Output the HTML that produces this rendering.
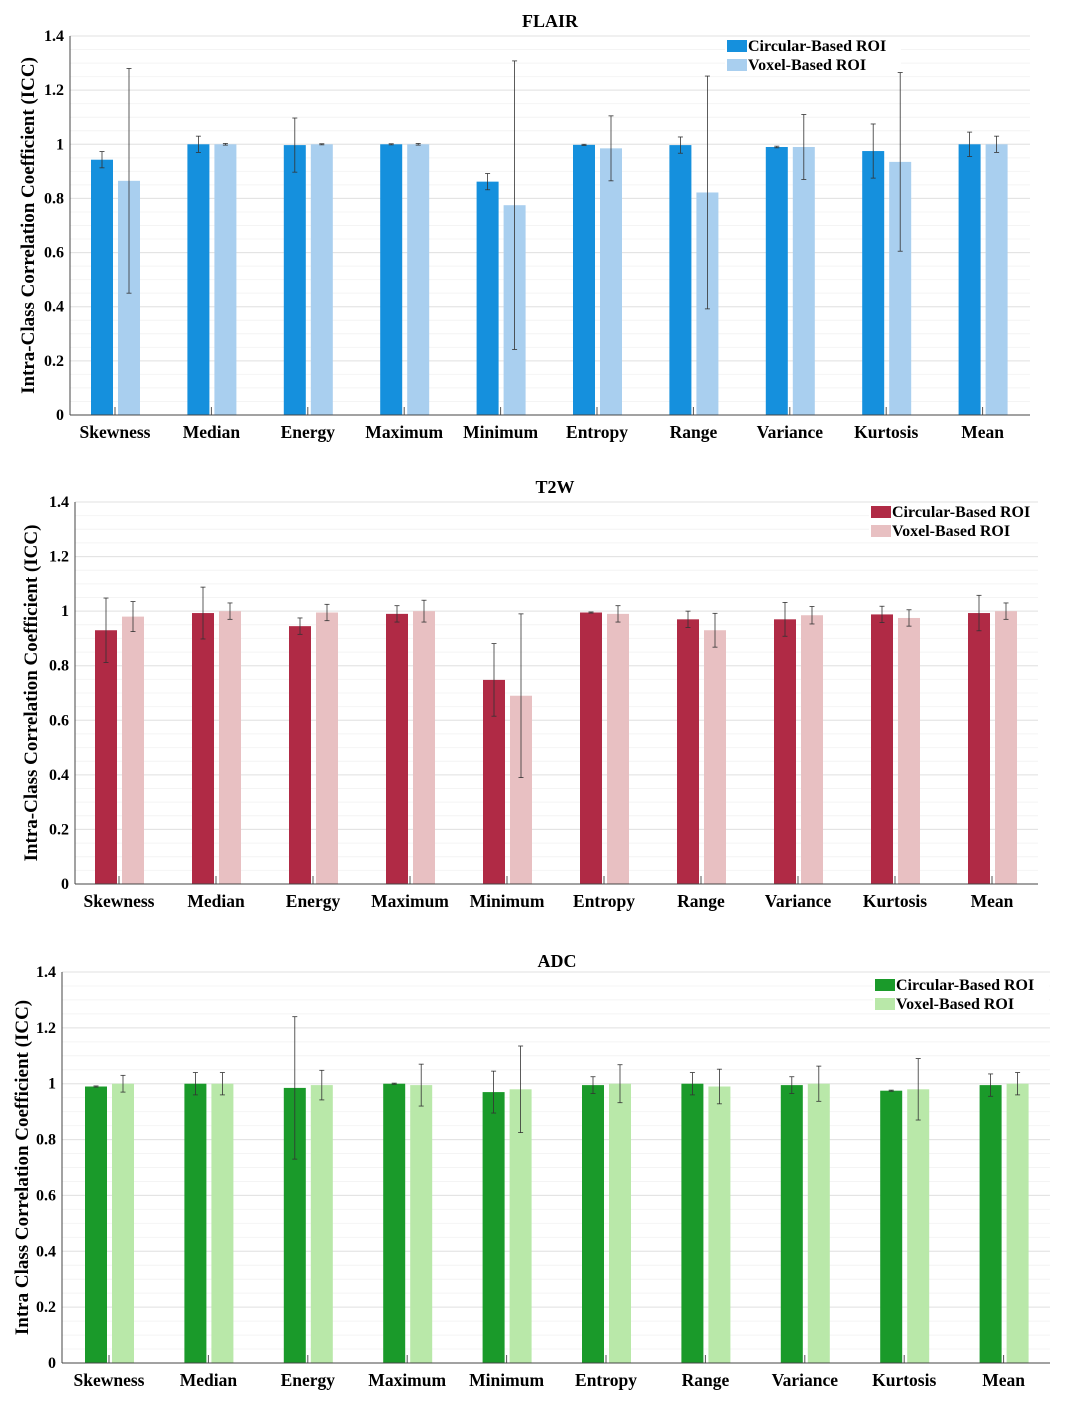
<!DOCTYPE html>
<html><head><meta charset="utf-8"><style>
body{margin:0;background:#fff;width:1070px;height:1417px;overflow:hidden}
svg{display:block;font-family:"Liberation Serif",serif;font-weight:bold}
</style></head><body>
<svg id="c" width="1070" height="1417"></svg>
<script>
const categories=["Skewness","Median","Energy","Maximum","Minimum","Entropy","Range","Variance","Kurtosis","Mean"];
const yTicks=[0,0.2,0.4,0.6,0.8,1,1.2,1.4];
const yTickLabels=["0","0.2","0.4","0.6","0.8","1","1.2","1.4"];
const flairCirc=[0.943,1.0,0.997,1.0,0.862,0.998,0.997,0.99,0.975,1.0];
const flairCircErr=[0.03,0.03,0.1,0.002,0.03,0.002,0.03,0.003,0.1,0.045];
const flairVox=[0.865,1.0,1.0,1.0,0.775,0.985,0.822,0.99,0.935,1.0];
const flairVoxErr=[0.415,0.003,0.002,0.003,0.533,0.12,0.43,0.12,0.33,0.03];
const t2Circ=[0.93,0.993,0.945,0.99,0.748,0.995,0.97,0.97,0.988,0.993];
const t2CircErr=[0.118,0.095,0.03,0.03,0.133,0.002,0.03,0.062,0.03,0.065];
const t2Vox=[0.98,1.0,0.995,1.0,0.69,0.99,0.93,0.985,0.975,1.0];
const t2VoxErr=[0.055,0.03,0.03,0.04,0.3,0.03,0.062,0.032,0.03,0.03];
const adcCirc=[0.99,1.0,0.985,1.0,0.97,0.995,1.0,0.995,0.975,0.995];
const adcCircErr=[0.002,0.04,0.255,0.002,0.075,0.03,0.04,0.03,0.002,0.04];
const adcVox=[1.0,1.0,0.995,0.995,0.98,1.0,0.99,1.0,0.98,1.0];
const adcVoxErr=[0.03,0.04,0.053,0.075,0.155,0.068,0.062,0.063,0.11,0.04];

const svg=document.getElementById('c');
const NS='http://www.w3.org/2000/svg';
function mk(tag,attrs,parent,text){const e=document.createElementNS(NS,tag);for(const k in attrs)e.setAttribute(k,attrs[k]);if(text!==undefined)e.textContent=text;(parent||svg).appendChild(e);return e;}

const panels=[
 {name:'flair',title:'FLAIR',x0:70,x1:1030,y0:415,y1:36,c0:115,step:96.4,cc:'#1590dd',vc:'#a9cfef',circ:flairCirc,ce:flairCircErr,vox:flairVox,ve:flairVoxErr,lx:727,ly:40,ylab:'Intra-Class Correlation Coefficient (ICC)',ylx:34,tx:550,ty:27},
 {name:'t2w',title:'T2W',x0:75,x1:1038,y0:884,y1:502,c0:119,step:97.0,cc:'#b02a45',vc:'#e8c0c2',circ:t2Circ,ce:t2CircErr,vox:t2Vox,ve:t2VoxErr,lx:871,ly:506,ylab:'Intra-Class Correlation Coefficient (ICC)',ylx:37,tx:555,ty:493},
 {name:'adc',title:'ADC',x0:62,x1:1050,y0:1363,y1:972,c0:109,step:99.4,cc:'#1a9a2a',vc:'#b9e8a9',circ:adcCirc,ce:adcCircErr,vox:adcVox,ve:adcVoxErr,lx:875,ly:979,ylab:'Intra Class Correlation Coefficient (ICC)',ylx:28,tx:557,ty:967}
];
panels.forEach(p=>{
 const g=mk('g',{});
 
 
 const y=v=>p.y0+(p.y1-p.y0)*v/1.4;
 const x=i=>p.c0+i*p.step;
 for(let v=0.05;v<1.4;v+=0.05){mk('line',{x1:p.x0,x2:p.x1,y1:y(v),y2:y(v),stroke:'#f4f4f4','stroke-width':1},g);}
 yTicks.forEach((t,i)=>{
  mk('line',{x1:p.x0,x2:p.x1,y1:y(t),y2:y(t),stroke:'#e2e2e2','stroke-width':1},g);
  const tl=mk('text',{x:p.x0-6,y:y(t)+5,'text-anchor':'end','font-size':16},g,yTickLabels[i]);
  
  
 });
 const tt=mk('text',{x:p.tx,y:p.ty,'text-anchor':'middle','font-size':18},g,p.title);
 
 
 const yl=mk('text',{x:p.ylx,y:(p.y0+p.y1)/2,'text-anchor':'middle','font-size':19,transform:`rotate(-90 ${p.ylx} ${(p.y0+p.y1)/2})`},g,p.ylab);
 
 
 const lg=mk('g',{},g);
 
 
 mk('rect',{x:p.lx-2,y:p.ly-2,width:176,height:34,fill:'#fff'},lg);
 mk('rect',{x:p.lx,y:p.ly,width:20,height:12,fill:p.cc},lg);
 mk('text',{x:p.lx+21,y:p.ly+11,'font-size':16},lg,'Circular-Based ROI');
 mk('rect',{x:p.lx,y:p.ly+19,width:20,height:12,fill:p.vc},lg);
 mk('text',{x:p.lx+21,y:p.ly+30,'font-size':16},lg,'Voxel-Based ROI');
 categories.forEach((c,i)=>{
  const cx=x(i);
  [[p.circ,p.ce,p.cc,-13,'circular'],[p.vox,p.ve,p.vc,14,'voxel']].forEach(([vals,errs,col,off,nm])=>{
   const bx=cx+off;
   const b=mk('rect',{x:bx-11,y:y(vals[i]),width:22,height:p.y0-y(vals[i]),fill:col},g);
   
   
   const hi=y(vals[i]+errs[i]),lo=y(vals[i]-errs[i]);
   mk('line',{x1:bx,x2:bx,y1:hi,y2:lo,stroke:'#333','stroke-width':0.8},g);
   mk('line',{x1:bx-2.5,x2:bx+2.5,y1:hi,y2:hi,stroke:'#333','stroke-width':0.8},g);
   mk('line',{x1:bx-2.5,x2:bx+2.5,y1:lo,y2:lo,stroke:'#333','stroke-width':0.8},g);
  });
  mk('line',{x1:cx,x2:cx,y1:p.y0,y2:p.y0-8,stroke:'#555','stroke-width':1},g);
  const xl=mk('text',{x:cx,y:p.y0+23,'text-anchor':'middle','font-size':17.5},g,c);
  
  
 });
 mk('line',{x1:p.x0,x2:p.x0,y1:p.y1,y2:p.y0,stroke:'#444','stroke-width':1},g);
 mk('line',{x1:p.x0,x2:p.x1,y1:p.y0,y2:p.y0,stroke:'#444','stroke-width':1},g);
});
</script>
</body></html>
